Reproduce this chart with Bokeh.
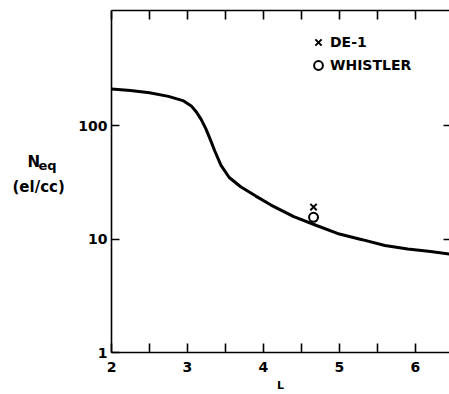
from bokeh.plotting import figure
from bokeh.layouts import row
from bokeh.models import (Range1d, LinearAxis, LogAxis, FixedTicker, Label, Legend, LegendItem)
from bokeh.embed import file_html
from bokeh.resources import INLINE

# Equatorial density model curve
L_curve = [2.0, 2.25, 2.5, 2.75, 2.95, 3.05, 3.12, 3.18, 3.24, 3.30, 3.36, 3.44,
           3.55, 3.7, 3.9, 4.1, 4.4, 4.7, 5.0, 5.3, 5.6, 5.9, 6.2, 6.45]
N_curve = [211, 205, 196, 182, 166, 150, 132, 114, 95, 76, 60, 45,
           35, 29, 24, 20, 15.8, 13.2, 11.1, 9.9, 8.8, 8.2, 7.8, 7.4]

# Observations
de1_L = [4.66]
de1_N = [19.2]
whistler_L = [4.66]
whistler_N = [15.6]

x_ticks = [2, 2.5, 3, 3.5, 4, 4.5, 5, 5.5, 6, 6.5]
x_labels = {2: "2", 3: "3", 4: "4", 5: "5", 6: "6"}
y_ticks = [1, 10, 100]
y_labels = {1: "1", 10: "10", 100: "100"}

FONT = "DejaVu Sans"
W_TITLE = 70

# ---- narrow panel holding the y-axis title ----
t = figure(width=W_TITLE, height=394, output_backend="svg", toolbar_location=None,
           x_range=Range1d(0, W_TITLE), y_range=Range1d(394, 0),
           x_axis_location=None, y_axis_location=None,
           min_border_left=0, min_border_right=0, min_border_top=0, min_border_bottom=0)
t.outline_line_color = None
t.grid.visible = False
t.border_fill_color = "white"
t.add_layout(Label(x=27, y=174, text="N", text_font=FONT, text_font_style="bold",
                   text_font_size="15px", text_baseline="alphabetic", text_color="black"))
t.add_layout(Label(x=38, y=179, text="eq", text_font=FONT, text_font_style="bold",
                   text_font_size="13px", text_baseline="alphabetic", text_color="black"))
t.add_layout(Label(x=12, y=203, text="(el/cc)", text_font=FONT, text_font_style="bold",
                   text_font_size="15px", text_baseline="alphabetic", text_color="black"))

# ---- main plot ----
p = figure(width=449 - W_TITLE, height=394, output_backend="svg", toolbar_location=None,
           x_range=Range1d(2, 6.45), y_range=Range1d(1, 1042), y_axis_type="log",
           x_axis_location=None, y_axis_location=None,
           min_border_left=111 - W_TITLE, min_border_right=0, min_border_top=10,
           min_border_bottom=42)
p.outline_line_color = None
p.grid.visible = False
p.background_fill_color = "white"
p.border_fill_color = "white"

def style(ax, labels=True):
    ax.major_tick_in = 9
    ax.major_tick_out = 0
    ax.minor_tick_in = 0
    ax.minor_tick_out = 0
    ax.axis_line_width = 1.6
    ax.major_tick_line_width = 1.6
    ax.axis_line_color = "black"
    ax.major_tick_line_color = "black"
    ax.major_label_text_font = FONT
    ax.major_label_text_font_style = "bold"
    ax.major_label_text_color = "black"
    if labels:
        ax.major_label_text_font_size = "14px"
    else:
        ax.major_label_text_font_size = "1px"
        ax.major_label_standoff = 0

xt = FixedTicker(ticks=x_ticks, minor_ticks=[])
yt = FixedTicker(ticks=y_ticks, minor_ticks=[])

bottom = LinearAxis(ticker=xt)
bottom.major_label_overrides = {t_: x_labels.get(t_, "") for t_ in x_ticks}
style(bottom)
bottom.major_label_standoff = 9
bottom.axis_label = "L"
bottom.axis_label_text_font = FONT
bottom.axis_label_text_font_style = "bold"
bottom.axis_label_text_font_size = "11px"
bottom.axis_label_text_color = "black"
bottom.axis_label_standoff = 4
p.add_layout(bottom, "below")

top = LinearAxis(ticker=xt)
style(top, labels=False)
top.major_label_overrides = {t_: "" for t_ in x_ticks}
p.add_layout(top, "above")

left = LogAxis(ticker=yt)
style(left)
left.major_label_overrides = y_labels
left.major_tick_in = 8
left.major_label_standoff = 4
p.add_layout(left, "left")

right = LogAxis(ticker=FixedTicker(ticks=[10, 100], minor_ticks=[]))
style(right, labels=False)
right.major_label_overrides = {10: "", 100: ""}
right.major_tick_in = 6
right.axis_line_color = None
p.add_layout(right, "right")

p.line(L_curve, N_curve, line_color="black", line_width=3)
r1 = p.scatter(de1_L, de1_N, marker="x", size=9, line_color="black", line_width=2)
r2 = p.scatter(whistler_L, whistler_N, marker="circle", size=9, fill_color=None,
               line_color="black", line_width=2)

legend = Legend(items=[LegendItem(label="DE-1", renderers=[r1]),
                       LegendItem(label="WHISTLER", renderers=[r2])],
                location=(195, 276), orientation="vertical")
legend.border_line_color = None
legend.background_fill_alpha = 0
legend.padding = 0
legend.margin = 0
legend.spacing = 1
legend.glyph_width = 24
legend.glyph_height = 22
legend.label_height = 22
legend.label_standoff = 0
legend.label_text_font = FONT
legend.label_text_font_style = "bold"
legend.label_text_font_size = "14px"
legend.label_text_color = "black"
p.add_layout(legend, "center")

layout = row(t, p, spacing=0)
open("out.html", "w").write(file_html(layout, INLINE))
